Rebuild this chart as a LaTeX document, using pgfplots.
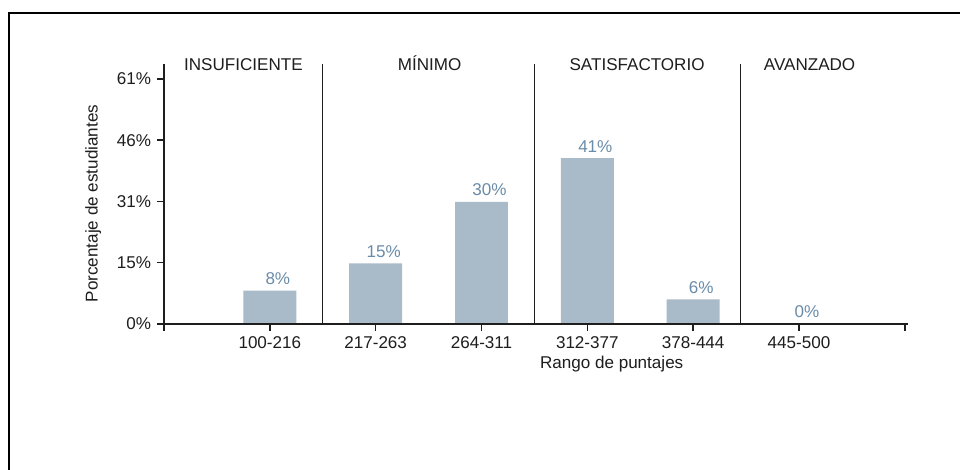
\documentclass[border=0pt]{standalone}
\usepackage{fontspec}
\setmainfont{Liberation Sans}
\usepackage{pgfplots}
\pgfplotsset{compat=1.18}

\definecolor{barfill}{HTML}{A9BBC8}
\definecolor{labelblue}{HTML}{6A8CA8}
\definecolor{ink}{HTML}{1E1E1E}

\begin{document}
\fontsize{12.8}{15}\selectfont
% coordinates in pixels of the 960x470 reference, origin bottom left
\begin{tikzpicture}[x=0.75pt,y=0.75pt]
  \useasboundingbox (0,0) rectangle (960,470);
  \fill[white] (0,0) rectangle (960,470);
  % frame (only left and top edges are visible)
  \draw[line width=1.9pt] (9,0) -- (9,457) -- (962,457);

  \begin{axis}[
      at={(123pt,109.5pt)}, anchor=south west,
      scale only axis,
      width=558pt, height=195pt,
      clip=false,
      axis on top,
      xmin=0, xmax=7.03,
      ymin=0, ymax=64.7,
      axis x line=bottom, axis y line=left,
      axis line style={-, ink, line width=1pt},
      tick style={ink, line width=1pt},
      xtick align=outside, ytick align=outside,
      major tick length=5.25pt,
      xtick={0,1,2,3,4,5,6,7},
      xticklabels={,100-216,217-263,264-311,312-377,378-444,445-500,},
      ytick={0,15.25,30.5,45.75,61},
      yticklabels={0\%,15\%,31\%,46\%,61\%},
      tick label style={text=ink},
      xlabel={Rango de puntajes},
      xlabel style={at={(axis cs:4.23,-10.96)}, anchor=base, text=ink},
      ylabel={Porcentaje de estudiantes},
      ylabel style={at={(axis cs:-0.67,30)}, anchor=center, text=ink},
      ybar,
      bar width=0.5,
      nodes near coords={\pgfmathprintnumber[fixed,precision=0,assume math mode=true]{\pgfplotspointmeta}\%},
      every node near coord/.append style={
        text=labelblue, anchor=base, inner sep=0pt,
        xshift=6pt, yshift=4.5pt,
      },
    ]
    \addplot[fill=barfill, draw=none] coordinates {
      (1,8.3) (2,15.1) (3,30.4) (4,41.3) (5,6.1) (6,0)
    };

    % tick marks under the category labels (7 px = 1.75 axis units)
    \draw[ink, line width=1.1pt] (axis cs:1,0) -- (axis cs:1,-1.75);
    \draw[ink, line width=1.1pt] (axis cs:2,0) -- (axis cs:2,-1.75);
    \draw[ink, line width=1.1pt] (axis cs:3,0) -- (axis cs:3,-1.75);
    \draw[ink, line width=1.1pt] (axis cs:4,0) -- (axis cs:4,-1.75);
    \draw[ink, line width=1.1pt] (axis cs:5,0) -- (axis cs:5,-1.75);
    \draw[ink, line width=1.1pt] (axis cs:6,0) -- (axis cs:6,-1.75);

    % separators between performance levels
    \draw[ink, line width=1pt] (axis cs:1.5,0) -- (axis cs:1.5,64.7);
    \draw[ink, line width=1pt] (axis cs:3.5,0) -- (axis cs:3.5,64.7);
    \draw[ink, line width=1pt] (axis cs:5.45,0) -- (axis cs:5.45,64.7);

    \node[anchor=base, text=ink] at (axis cs:0.75,63.2) {INSUFICIENTE};
    \node[anchor=base, text=ink] at (axis cs:2.51,63.2) {MÍNIMO};
    \node[anchor=base, text=ink] at (axis cs:4.47,63.2) {SATISFACTORIO};
    \node[anchor=base, text=ink] at (axis cs:6.10,63.2) {AVANZADO};
  \end{axis}
\end{tikzpicture}
\end{document}
